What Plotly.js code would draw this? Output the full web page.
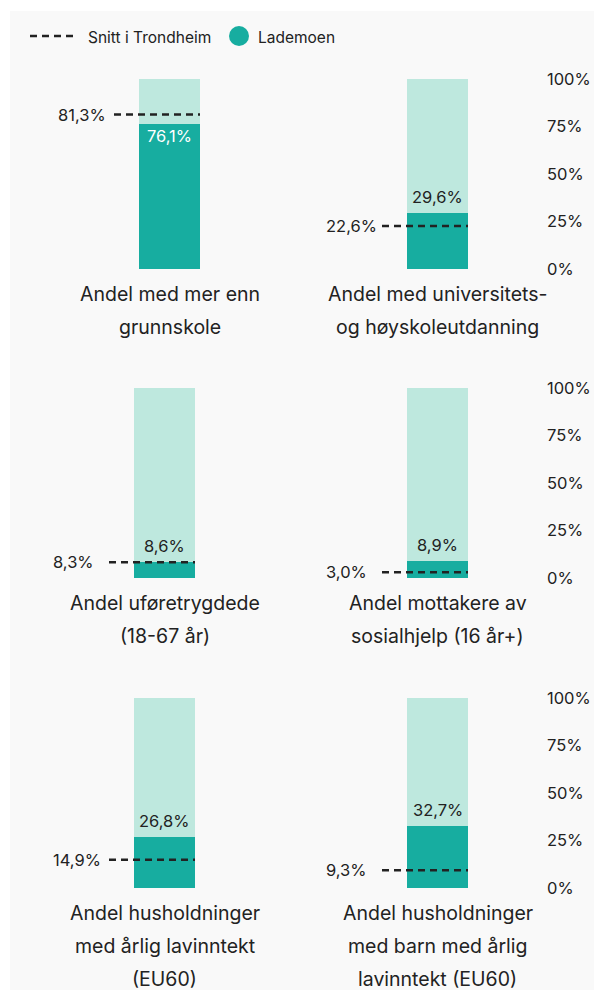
<!DOCTYPE html>
<html>
<head>
<meta charset="utf-8">
<script src="https://cdn.plot.ly/plotly-3.0.1.min.js"></script>
<style>
  html, body { margin: 0; padding: 0; background: #ffffff; }
  #chart { width: 594px; height: 990px; }
</style>
</head>
<body>
<div id="chart"></div>
<script>
// ---- data ----
const categories = [
  "Andel med mer enn<br>grunnskole",
  "Andel med universitets-<br>og høyskoleutdanning",
  "Andel uføretrygdede<br>(18-67 år)",
  "Andel mottakere av<br>sosialhjelp (16 år+)",
  "Andel husholdninger<br>med årlig lavinntekt<br>(EU60)",
  "Andel husholdninger<br>med barn med årlig<br>lavinntekt (EU60)"
];
const lademoen = [76.1, 29.6, 8.6, 8.9, 26.8, 32.7];
const trondheim = [81.3, 22.6, 8.3, 3.0, 14.9, 9.3];
const fullShare = 100;
const tickValues = [0, 25, 50, 75, 100];
const tickLabels = ["0%", "25%", "50%", "75%", "100%"];
const seriesNames = ["Snitt i Trondheim", "Lademoen"];

// ---- styling / layout ----
const W = 594, H = 990;
const DARK = "#17ada0", LIGHT = "#bee8de", TXT = "#222222";
const FONT = "Inter, 'Open Sans', sans-serif";
const px = x => x / W;
const py = y => 1 - y / H;
const barW = 61, dashLead = 25;
const barLeft = [139, 407, 134, 407, 134, 407];
const rowTop = [79, 388, 698];
const barH = 190;
const fmt = v => v.toFixed(1).replace(".", ",") + "%";

const traces = [];
const annotations = [];
const layout = {
  width: W, height: H,
  margin: {l: 0, r: 0, t: 0, b: 0},
  paper_bgcolor: "#ffffff",
  plot_bgcolor: "rgba(0,0,0,0)",
  barmode: "overlay",
  bargap: 0,
  showlegend: false,
  font: {family: FONT, color: TXT, size: 16},
  shapes: [
    {type: "rect", xref: "paper", yref: "paper", x0: px(10), x1: 1, y0: 0, y1: py(11),
     fillcolor: "#f9f9f9", line: {width: 0}, layer: "below"},
    // legend
    {type: "line", xref: "paper", yref: "paper", x0: px(30), x1: px(77), y0: py(36), y1: py(36),
     line: {color: TXT, width: 2.5, dash: "7px,5px"}},
    {type: "circle", xref: "paper", yref: "paper", x0: px(229), x1: px(249), y0: py(46), y1: py(26),
     fillcolor: DARK, line: {width: 0}}
  ],
  annotations: annotations
};
annotations.push({xref: "paper", yref: "paper", x: px(86), y: py(37), xanchor: "left", yanchor: "middle",
  text: seriesNames[0], showarrow: false, font: {size: 15.5, color: TXT, family: FONT}});
annotations.push({xref: "paper", yref: "paper", x: px(256), y: py(37), xanchor: "left", yanchor: "middle",
  text: seriesNames[1], showarrow: false, font: {size: 15.5, color: TXT, family: FONT}});

for (let i = 0; i < categories.length; i++) {
  const n = i + 1;
  const xa = "x" + n, ya = "y" + n;
  const xk = "xaxis" + (n === 1 ? "" : n), yk = "yaxis" + (n === 1 ? "" : n);
  const left = barLeft[i], top = rowTop[Math.floor(i / 2)];
  const xmin = -0.5 - dashLead / barW;
  const isRight = i % 2 === 1;

  layout[xk] = {domain: [px(left - dashLead), px(left + barW)], range: [xmin, 0.5],
    visible: false, fixedrange: true, anchor: ya};
  layout[yk] = {domain: [py(top + barH), py(top)], range: [0, 100], anchor: xa,
    showgrid: false, zeroline: false, showline: false, fixedrange: true,
    showticklabels: isRight, tickvals: tickValues, ticktext: tickLabels, ticks: "",
    side: "right", ticklabelstandoff: 78,
    tickfont: {size: 16.5, color: TXT, family: FONT}};

  traces.push({type: "bar", x: [0], y: [fullShare], width: [1], xaxis: xa, yaxis: ya,
    marker: {color: LIGHT, line: {width: 0}}, hoverinfo: "skip"});
  traces.push({type: "bar", x: [0], y: [lademoen[i]], width: [1], xaxis: xa, yaxis: ya,
    name: seriesNames[1], marker: {color: DARK, line: {width: 0}}});
  traces.push({type: "scatter", mode: "lines", x: [xmin, 0.5], y: [trondheim[i], trondheim[i]],
    xaxis: xa, yaxis: ya, name: seriesNames[0],
    line: {color: TXT, width: 2.5, dash: "7px,5px"}});

  // Lademoen value label
  const inside = lademoen[i] > 50;
  annotations.push({xref: xa, yref: ya, x: 0, y: lademoen[i], yanchor: "middle",
    yshift: inside ? -12 : 16, text: fmt(lademoen[i]), showarrow: false,
    font: {size: 16.5, color: inside ? "#ffffff" : TXT, family: FONT}});
  // Trondheim value label (left-aligned at a fixed offset from the dashed line start)
  annotations.push({xref: xa, yref: ya, x: xmin, y: trondheim[i], xanchor: "left", yanchor: "middle",
    xshift: -58, text: fmt(trondheim[i]), showarrow: false,
    font: {size: 16.5, color: TXT, family: FONT}});
  // category label lines
  const lines = categories[i].split("<br>");
  lines.forEach((ln, k) => {
    annotations.push({xref: xa, yref: ya + " domain", x: 0, y: 0, yanchor: "middle",
      yshift: -(25 + 33 * k), text: ln, showarrow: false,
      font: {size: 19.5, color: TXT, family: FONT}});
  });
}

Plotly.newPlot("chart", traces, layout, {displayModeBar: false, staticPlot: true});
</script>
</body>
</html>
